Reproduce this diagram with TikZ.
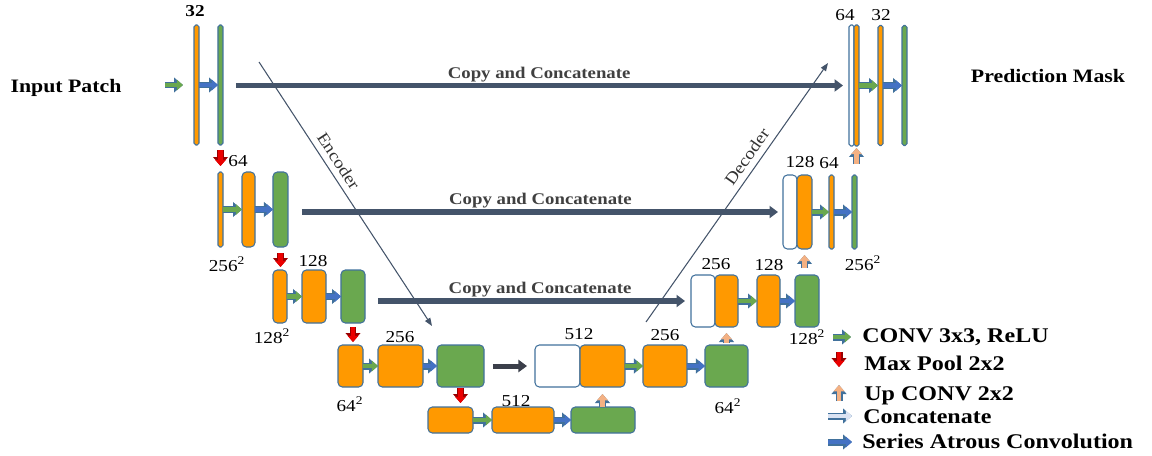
\documentclass[tikz,border=0pt]{standalone}
\usepackage{fontspec}
\setmainfont{Liberation Serif}[FakeStretch=1.15]
\usepackage{xcolor}
\usepackage{tikz}
\usetikzlibrary{arrows.meta,positioning,calc}

\definecolor{bord}{RGB}{65,113,156}
\definecolor{org}{RGB}{255,153,0}
\definecolor{grn}{RGB}{106,168,79}
\definecolor{blu}{RGB}{68,114,196}
\definecolor{slm}{RGB}{244,177,131}
\definecolor{lblu}{RGB}{218,227,243}
\definecolor{cpyc}{RGB}{68,84,106}
\definecolor{dkc}{RGB}{59,63,74}
\definecolor{txtg}{RGB}{64,64,64}
\definecolor{redc}{RGB}{235,0,0}

\begin{document}
\begin{tikzpicture}[
    x=0.02cm, y=-0.02cm,
    box/.style={draw=bord, line width=0.6pt, rounded corners=2.5pt, inner sep=0pt, outer sep=0pt},
    barr/.style={box, rounded corners=1pt},
    sz/.style 2 args={minimum width=#1*0.02cm, minimum height=#2*0.02cm},
    ob/.style={box, fill=org}, gb/.style={box, fill=grn}, wb/.style={box, fill=white},
    obar/.style={barr, fill=org}, gbar/.style={barr, fill=grn}, wbar/.style={barr, fill=white},
    arr/.style={line width=0.085cm, -{Triangle[length=0.125cm,width=0.21cm]},
        preaction={draw=#1, line width=0.14cm, -{Triangle[length=0.18cm,width=0.29cm]}}},
    arr/.default=bord,
    conv/.style={arr, draw=grn},
    atrs/.style={arr, draw=blu},
    pool/.style={arr=red!60!black, draw=redc},
    upc/.style={arr, draw=slm},
    catc/.style={arr, draw=lblu},
    cpy/.style={draw=cpyc, line width=0.11cm, -{Triangle[length=0.17cm,width=0.24cm]}},
    edline/.style={draw=cpyc, line width=0.6pt, -{Triangle[length=0.16cm,width=0.12cm]}},
    lab/.style={font=\fontsize{9.5}{11}\selectfont, inner sep=0pt},
    labb/.style={font=\bfseries\fontsize{9.5}{11}\selectfont, inner sep=0pt},
    cpylab/.style={font=\bfseries\fontsize{9.3}{10}\selectfont, text=txtg, anchor=base, yshift=0.15cm, inner sep=0pt},
    edlab/.style={font=\fontsize{9.5}{11}\selectfont, text=black!80, inner sep=0pt},
    ttl/.style={font=\bfseries\fontsize{10.8}{12}\selectfont, anchor=base, inner sep=0pt},
    leg/.style={font=\bfseries\fontsize{11.9}{13}\selectfont, anchor=base west, inner sep=0pt}
]
\useasboundingbox (0,0) rectangle (1152,456);

% Encoder
\node[obar, sz={5}{120}] (o1) at (196.5,85) {};
\node[gbar, sz={5}{120}, right=0.38cm of o1] (g1) {};

\node[obar, sz={5}{75}] (o2a) at (220.5,209.5) {};
\node[ob, sz={13}{75}, right=0.38cm of o2a] (o2b) {};
\node[gb, sz={15}{75}, right=0.36cm of o2b] (g2) {};

\node[ob, sz={14}{53}] (o3a) at (280,296.5) {};
\node[ob, sz={24}{53}, right=0.3cm of o3a] (o3b) {};
\node[gb, sz={24}{53}, right=0.3cm of o3b] (g3) {};

\node[ob, sz={25}{42}] (o4a) at (350.5,366) {};
\node[ob, sz={45}{42}, right=0.3cm of o4a] (o4b) {};
\node[gb, sz={47}{42}, right=0.28cm of o4b] (g4) {};

% Bottom
\node[ob, sz={45}{26}] (o5a) at (450.5,420) {};
\node[ob, sz={62}{26}, right=0.38cm of o5a] (o5b) {};
\node[gb, sz={64}{26}, right=0.34cm of o5b] (g5) {};

% Decoder
\node[wb, sz={45}{42}, right=1.02cm of g4] (w4) {};
\node[ob, sz={45}{42}, right=0pt of w4] (o4c) {};
\node[ob, sz={44}{42}, right=0.36cm of o4c] (o4d) {};
\node[gb, sz={43}{42}, right=0.36cm of o4d] (g4b) {};

\node[wb, sz={24}{52}] (w3) at (703,301) {};
\node[ob, sz={23}{52}, right=0pt of w3] (o3c) {};
\node[ob, sz={23}{52}, right=0.38cm of o3c] (o3d) {};
\node[gb, sz={24}{52}, right=0.3cm of o3d] (g3b) {};

\node[wb, sz={14}{74}] (w2) at (790,212) {};
\node[ob, sz={15}{74}, right=0pt of w2] (o2c) {};
\node[obar, sz={5}{74}, right=0.34cm of o2c] (o2d) {};
\node[gbar, sz={5}{74}, right=0.36cm of o2d] (g2b) {};

\node[wbar, sz={5}{121}] (w1) at (851.5,85.5) {};
\node[obar, sz={5}{121}, right=0pt of w1] (o1c) {};
\node[obar, sz={5}{120}, right=0.38cm of o1c] (o1d) {};
\node[gbar, sz={5}{120}, right=0.38cm of o1d] (g1b) {};

% Sizes
\node[labb] (n32a) at (195,11) {32};
\node[lab] (n64a) at (238,161) {64};
\node[lab] (s256a) at (227,264) {256\textsuperscript{2}};
\node[lab] (n128a) at (313,261) {128};
\node[lab] (s128a) at (272,336) {128\textsuperscript{2}};
\node[lab] (n256a) at (400,337) {256};
\node[lab] (s64a) at (350,404) {64\textsuperscript{2}};
\node[lab] (n512a) at (516,401) {512};
\node[lab] (n512b) at (579,334) {512};
\node[lab] (n256b) at (665,335) {256};
\node[lab] (s64b) at (728,406) {64\textsuperscript{2}};
\node[lab] (n256c) at (716,264) {256};
\node[lab] (n128b) at (769,265) {128};
\node[lab] (s128b) at (807,337) {128\textsuperscript{2}};
\node[lab] (n128c) at (800,162) {128};
\node[lab] (n64b) at (829,163) {64};
\node[lab] (s256b) at (863,263) {256\textsuperscript{2}};
\node[lab] (n64c) at (845,15) {64};
\node[lab] (n32b) at (881,15) {32};

% Titles
\node[ttl] (inp) at (66,92) {Input Patch};
\node[ttl] (pred) at (1048,83) {Prediction Mask};

% Conv / atrous arrows
\coordinate (inp0) at (165,85);
\draw[conv, shorten >=0.22cm] (inp0) -- (o1.west);
\draw[atrs] (o1.east) -- (g1.west);
\draw[conv] (o2a.east) -- (o2b.west);
\draw[atrs] (o2b.east) -- (g2.west);
\draw[conv] (o3a.east) -- (o3b.west);
\draw[atrs] (o3b.east) -- (g3.west);
\draw[conv] (o4a.east) -- (o4b.west);
\draw[atrs] (o4b.east) -- (g4.west);
\draw[conv] (o5a.east) -- (o5b.west);
\draw[atrs] (o5b.east) -- (g5.west);
\draw[conv] (o4c.east) -- (o4d.west);
\draw[atrs] (o4d.east) -- (g4b.west);
\draw[conv] (o3c.east) -- (o3d.west);
\draw[atrs] (o3d.east) -- (g3b.west);
\draw[conv] (o2c.east) -- (o2d.west);
\draw[atrs] (o2d.east) -- (g2b.west);
\draw[conv] (o1c.east) -- (o1d.west);
\draw[atrs] (o1d.east) -- (g1b.west);

% Max pool
\draw[pool, shorten <=0.1cm, shorten >=0.12cm] (g1.south) -- (g1.south |- o2a.north);
\draw[pool, shorten <=0.12cm, shorten >=0.06cm] (g2.south) -- (g2.south |- o3a.north);
\draw[pool, shorten <=0.08cm, shorten >=0.06cm] (g3.south) -- (g3.south |- o4a.north);
\draw[pool, shorten <=0.02cm, shorten >=0.08cm] (g4.south) -- (g4.south |- o5a.north);

% Up conv
\draw[upc, shorten <=0.01cm, shorten >=0.14cm] (g5.north -| o4c.south) -- (o4c.south);
\draw[upc, shorten <=0.04cm, shorten >=0.12cm] (g4b.north -| o3c.south) -- (o3c.south);
\draw[upc, shorten <=0.14cm, shorten >=0.12cm] (g3b.north -| o2c.south) -- (o2c.south);
\draw[upc, shorten <=0.22cm, shorten >=0.04cm] (g2b.north -| o1c.south) -- (o1c.south);

% Copy and concatenate
\draw[cpy, shorten <=0.26cm, shorten >=0.12cm] (g1.east |- w1.west) -- node[cpylab, pos=0.505] {Copy and Concatenate} (w1.west);
\draw[cpy, shorten <=0.28cm, shorten >=0.1cm] (g2.east |- w2.west) -- node[cpylab, pos=0.51] {Copy and Concatenate} (w2.west);
\draw[cpy, shorten <=0.26cm, shorten >=0.12cm] (g3.east |- w3.west) -- node[cpylab, pos=0.537] {Copy and Concatenate} (w3.west);
\draw[cpy, draw=dkc, line width=0.1cm, shorten <=0.18cm, shorten >=0.16cm] (g4.east) -- (w4.west);

% Encoder / decoder
\coordinate (enc0) at (259,62);
\coordinate (enc1) at (432,326);
\draw[edline] (enc0) -- node[edlab, pos=0.4, sloped, above=0.12cm] {Encoder} (enc1);
\coordinate (dec0) at (646,322);
\coordinate (dec1) at (828,63);
\draw[edline] (dec0) -- node[edlab, pos=0.61, sloped, above=0.12cm] {Decoder} (dec1);

% Legend
\coordinate (lg1a) at (833,337);
\coordinate (lg1b) at (851,337);
\draw[conv] (lg1a) -- (lg1b);
\node[leg] (lt1) at (862,342) {CONV 3x3, ReLU};
\coordinate (lg2a) at (839,352);
\coordinate (lg2b) at (839,367);
\draw[pool] (lg2a) -- (lg2b);
\node[leg] (lt2) at (864,370) {Max Pool 2x2};
\coordinate (lg3a) at (839,401);
\coordinate (lg3b) at (839,385);
\draw[upc] (lg3a) -- (lg3b);
\node[leg] (lt3) at (864,400) {Up CONV 2x2};
\coordinate (lg4a) at (828,416);
\coordinate (lg4b) at (852,416);
\draw[catc] (lg4a) -- (lg4b);
\node[leg] (lt4) at (863,423) {Concatenate};
\coordinate (lg5a) at (828,442);
\coordinate (lg5b) at (852,442);
\draw[atrs] (lg5a) -- (lg5b);
\node[leg] (lt5) at (862,448) {Series Atrous Convolution};
\end{tikzpicture}
\end{document}
